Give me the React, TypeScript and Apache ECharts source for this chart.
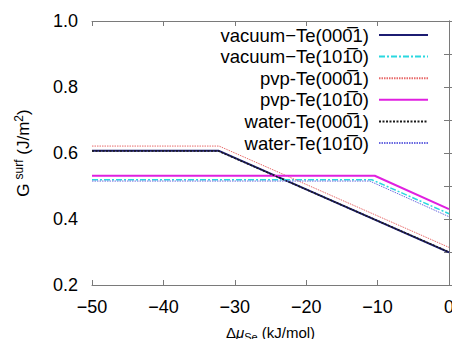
import React, { useEffect, useRef } from "react";
import * as echarts from "echarts";

const seriesNames = [
  "vacuum\u2212Te(000\u03051)",
  "vacuum\u2212Te(101\u03050)",
  "pvp-Te(000\u03051)",
  "pvp-Te(101\u03050)",
  "water-Te(000\u03051)",
  "water-Te(101\u03050)",
];

// each series: [x, y] at left edge, at the kink, at right edge
const vacuum0001 = [[-50, 0.607], [-32.3, 0.607], [0, 0.299]];
const vacuum1010 = [[-50, 0.519], [-10.8, 0.519], [0, 0.416]];
const pvp0001 = [[-50, 0.621], [-32.2, 0.621], [0, 0.314]];
const pvp1010 = [[-50, 0.531], [-10.4, 0.531], [0, 0.430]];
const water0001 = [[-50, 0.606], [-32.3, 0.606], [0, 0.300]];
const water1010 = [[-50, 0.515], [-11.1, 0.515], [0, 0.407]];

const xTicks = [-50, -40, -30, -20, -10, 0];
const yTicks = [0.2, 0.4, 0.6, 0.8, 1.0];

const FONT = "Liberation Sans, Arial, sans-serif";
const AXIS_COLOR = "#7a7a7a";

export default function App() {
  const ref = useRef<HTMLDivElement>(null);
  useEffect(() => {
    if (!ref.current) return;
    const chart = echarts.init(ref.current, undefined, { renderer: "svg" });
    const styles = [
      { color: "#1c1c72", width: 2, type: "solid" as any },
      { color: "#2ad8e0", width: 1.5, type: [6, 2, 2, 2] as any },
      { color: "#e86a6a", width: 1, type: [1.5, 1] as any },
      { color: "#e020e0", width: 2, type: "solid" as any },
      { color: "#1a1a1a", width: 1.5, type: [2, 1.5] as any },
      { color: "#6a6ae0", width: 1, type: [1.5, 1] as any },
    ];
    const data = [vacuum0001, vacuum1010, pvp0001, pvp1010, water0001, water1010];
    const fmtX = (v: number) => (v < 0 ? "\u2212" + Math.abs(v) : String(v));
    const commonAxisLine = { show: true, lineStyle: { color: AXIS_COLOR, width: 1 } };
    chart.setOption({
      animation: false,
      backgroundColor: "#fff",
      textStyle: { fontFamily: FONT },
      grid: { left: 92, right: 11, top: 21, bottom: 61 },
      legend: {
        orient: "vertical",
        right: 26,
        top: 20,
        align: "right",
        itemWidth: 49,
        itemHeight: 14,
        itemGap: 1.6,
        selectedMode: false,
        itemStyle: { opacity: 0, borderWidth: 0 },
        textStyle: { fontSize: 18.5, fontFamily: FONT, color: "#000", lineHeight: 20, padding: [0, 5, 0, 0] },
        data: seriesNames,
      },
      xAxis: [
        {
          type: "value",
          min: -50,
          max: 0,
          interval: 10,
          name: "{g|\u0394}{i|\u03bc}{sub|Se} (kJ/mol)",
          nameLocation: "middle",
          nameGap: 38,
          nameTextStyle: {
            fontSize: 15,
            fontFamily: FONT,
            color: "#000",
            rich: {
              g: { fontSize: 15, fontFamily: FONT, color: "#000" },
              i: { fontSize: 15, fontStyle: "italic", fontFamily: FONT, color: "#000" },
              sub: { fontSize: 11, fontFamily: FONT, color: "#000", padding: [8, 0, 0, 0] },
            },
          },
          axisLine: commonAxisLine,
          axisTick: { show: true, inside: true, length: 5, lineStyle: { color: AXIS_COLOR } },
          axisLabel: { formatter: fmtX, fontSize: 18, color: "#000", fontFamily: FONT, margin: 13 },
          splitLine: { show: false },
        },
        {
          type: "value",
          position: "top",
          min: -50,
          max: 0,
          interval: 10,
          axisLine: commonAxisLine,
          axisTick: { show: true, inside: true, length: 5, lineStyle: { color: AXIS_COLOR } },
          axisLabel: { show: false },
          splitLine: { show: false },
        },
      ],
      yAxis: [
        {
          type: "value",
          min: 0.2,
          max: 1.0,
          interval: 0.2,
          name: "{i|G}{sup|surf} (J/m{sup|2})",
          nameLocation: "middle",
          nameGap: 58,
          nameTextStyle: {
            fontSize: 17,
            fontFamily: FONT,
            color: "#000",
            rich: {
              i: { fontSize: 17, fontFamily: FONT, color: "#000", padding: [0, 4, 0, 0] },
              sup: { fontSize: 12, fontFamily: FONT, color: "#000", padding: [0, 0, 9, 0] },
            },
          },
          axisLine: commonAxisLine,
          axisTick: { show: true, inside: true, length: 5, lineStyle: { color: AXIS_COLOR } },
          minorTick: { show: true, splitNumber: 2, length: 5, lineStyle: { color: AXIS_COLOR } },
          axisLabel: { formatter: (v: number) => v.toFixed(1), fontSize: 18, color: "#000", fontFamily: FONT, margin: 14 },
          splitLine: { show: false },
          minorSplitLine: { show: false },
        },
        {
          type: "value",
          position: "right",
          min: 0.2,
          max: 1.0,
          interval: 0.2,
          axisLine: commonAxisLine,
          axisTick: { show: true, inside: true, length: 5, lineStyle: { color: AXIS_COLOR } },
          minorTick: { show: true, splitNumber: 2, length: 5, lineStyle: { color: AXIS_COLOR } },
          axisLabel: { show: false },
          splitLine: { show: false },
        },
      ],
      series: seriesNames.map((name, i) => ({
        name,
        type: "line",
        data: data[i],
        symbol: "none",
        lineStyle: styles[i],
        itemStyle: { color: styles[i].color },
        z: 2 + i,
      })),
    });
    return () => chart.dispose();
  }, []);
  return <div ref={ref} style={{ width: 460, height: 347, margin: -8 }} />;
}
